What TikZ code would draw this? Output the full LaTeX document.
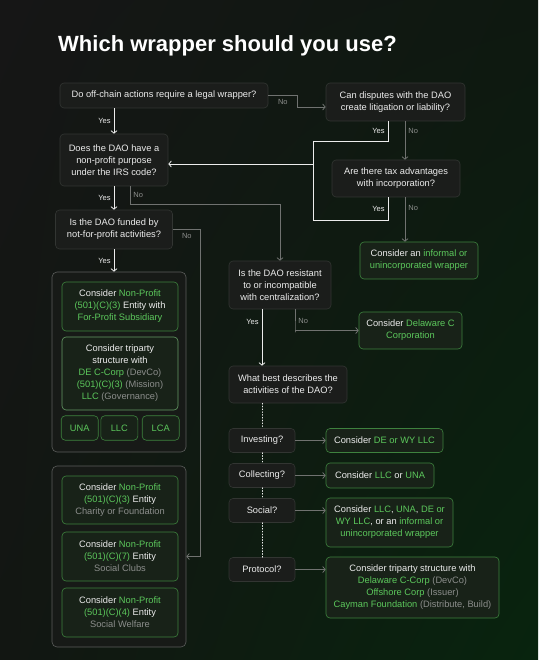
\documentclass[tikz,border=0pt]{standalone}
\usepackage{fontspec}
\setmainfont{Liberation Sans}
\definecolor{wrpbg}{RGB}{22,22,22}
\definecolor{wrpbgtr}{RGB}{14,24,16}
\definecolor{wrpbgbl}{RGB}{18,22,18}
\definecolor{wrpbgbr}{RGB}{8,36,14}
\definecolor{wrpbox}{RGB}{27,29,27}
\definecolor{wrpedge}{RGB}{50,53,50}
\definecolor{wrpgrp}{RGB}{23,26,23}
\definecolor{wrpgreen}{RGB}{92,200,92}
\definecolor{wrpgedge}{RGB}{62,130,62}
\definecolor{wrpgfill}{RGB}{24,34,24}
\definecolor{wrpgray}{RGB}{140,142,140}
\definecolor{wrpline}{RGB}{112,114,112}
\definecolor{wrptext}{RGB}{236,236,236}
\usepackage{tikz}
\usetikzlibrary{arrows.meta,positioning,calc,shadings}
\newcommand{\hl}[1]{\textcolor{wrpgreen}{#1}}
\newcommand{\dm}[1]{\textcolor{wrpgray}{#1}}
\tikzset{
  sz/.style 2 args={minimum width=#1pt,minimum height=#2pt},
  qbox/.style={rectangle,rounded corners=4pt,draw=wrpedge,fill=wrpbox,
               text=wrptext,inner sep=1pt,align=center,line width=0.6pt,
               font=\fontsize{9.3}{12}\selectfont},
  rbox/.style={qbox,draw=wrpgedge,fill=wrpgfill},
  grp/.style={rectangle,rounded corners=5pt,draw=wrpedge!80,fill=wrpgrp,
              line width=0.6pt},
  arrw/.style={line width=0.8pt,draw=wrptext},
  arrg/.style={line width=0.8pt,draw=wrpline},
  tip/.style={-{Straight Barb[length=2.5pt,width=6pt]}},
  lbl/.style={font=\fontsize{7.5}{9}\selectfont,inner sep=3pt,text=#1},
  lbl/.default=wrptext,
}

\begin{document}
\begin{tikzpicture}[x=1pt,y=-1pt]
  \shade[upper left=wrpbg,upper right=wrpbgtr,lower left=wrpbgbl,
         lower right=wrpbgbr] (0,0) rectangle (538,660);
  \node[anchor=base west,inner sep=0pt,text=white,
        font=\fontsize{22}{26}\selectfont\bfseries] (title) at (58,52)
        {Which wrapper should you use?};

  \node[qbox,sz={208}{25}] (off) at (164,95.5)
        {Do off-chain actions require a legal wrapper?};
  \node[qbox,sz={108}{52}] (npp) at (114,160)
        {Does the DAO have a\\non-profit purpose\\under the IRS code?};
  \node[qbox,sz={117}{39}] (fund) at (114,229.5)
        {Is the DAO funded by\\not-for-profit activities?};

  \node[grp,sz={134}{180}] (grpA) at (119,362) {};
  \node[rbox,sz={116}{49}] (subs) at (120,306.5)
        {Consider \hl{Non-Profit}\\\hl{(501)(C)(3)} Entity with\\\hl{For-Profit Subsidiary}};
  \node[rbox,sz={116}{73},draw=wrpgedge!80] (tri) at (120,373.5)
        {Consider triparty\\structure with\\\hl{DE C-Corp} \dm{(DevCo)}\\
         \hl{(501)(C)(3)} \dm{(Mission)}\\\hl{LLC} \dm{(Governance)}};
  \foreach \nm/\x/\lab in {una/79.7/UNA, llc/119.3/LLC, lca/160.7/LCA}
    \node[rbox,sz={37}{24.5}] (\nm) at (\x,428) {\hl{\lab}};

  \node[grp,sz={134}{181}] (grpB) at (119,556.5) {};
  \node[rbox,sz={116}{48}] (charity) at (120,500)
        {Consider \hl{Non-Profit}\\\hl{(501)(C)(3)} Entity\\\dm{Charity or Foundation}};
  \node[rbox,sz={116}{49}] (clubs) at (120,556.5)
        {Consider \hl{Non-Profit}\\\hl{(501)(C)(7)} Entity\\\dm{Social Clubs}};
  \node[rbox,sz={116}{49}] (welfare) at (120,612.5)
        {Consider \hl{Non-Profit}\\\hl{(501)(C)(4)} Entity\\\dm{Social Welfare}};

  \node[qbox,sz={139}{38}] (disp) at (395.5,102)
        {Can disputes with the DAO\\create litigation or liability?};
  \node[qbox,sz={128}{37}] (tax) at (396,178.5)
        {Are there tax advantages\\with incorporation?};
  \node[rbox,sz={118}{37}] (informal) at (419,260.5)
        {Consider an \hl{informal or}\\\hl{unincorporated wrapper}};
  \node[qbox,sz={102}{48}] (central) at (280,285)
        {Is the DAO resistant\\to or incompatible\\with centralization?};
  \node[rbox,sz={103}{37}] (delaware) at (410.5,330.5)
        {Consider \hl{Delaware C}\\\hl{Corporation}};
  \node[qbox,sz={118}{37}] (activ) at (288,384.5)
        {What best describes the\\activities of the DAO?};

  \foreach \nm/\y/\lab in {inv/440.5/Investing?, col/475.5/Collecting?,
                           soc/510.5/Social?, pro/569.5/Protocol?}
    \node[qbox,sz={66}{24}] (\nm) at (262,\y) {\lab};
  \node[rbox,sz={117}{24}] (llcde) at (384.5,440.5) {Consider \hl{DE or WY LLC}};
  \node[rbox,sz={108}{25}] (llcuna) at (380,475.5) {Consider \hl{LLC} or \hl{UNA}};
  \node[rbox,sz={127}{49}] (social) at (389.5,522.5)
        {Consider \hl{LLC}, \hl{UNA}, \hl{DE or}\\\hl{WY LLC}, or an \hl{informal or}\\
         \hl{unincorporated wrapper}};
  \node[rbox,sz={173}{61}] (proto) at (412.5,587.5)
        {Consider triparty structure with\\\hl{Delaware C-Corp} \dm{(DevCo)}\\
         \hl{Offshore Corp} \dm{(Issuer)}\\\hl{Cayman Foundation} \dm{(Distribute, Build)}};

  \coordinate (jn) at (313,164);
  \coordinate (dispno) at ($(disp.south)+(9.5,0)$);
  \coordinate (taxno) at ($(tax.south)+(9,0)$);

  \draw[arrw,tip] (off.south -| npp.north) -- node[lbl,left]{Yes} (npp.north);
  \draw[arrw,tip] (npp.south) -- node[lbl,left]{Yes} (fund.north);
  \draw[arrw,tip] (fund.south) -- node[lbl,left]{Yes} (fund.south |- grpA.north);
  \draw[arrg,tip] (off.east) -- ++(29,0) node[lbl=wrpgray,midway,below]{No}
        |- ($(disp.west)+(0,5)$);
  \draw[arrw] ($(disp.south)+(-7.5,0)$) -- ++(0,20)
        node[lbl,midway,left]{Yes} -| (jn);
  \draw[arrw] ($(tax.south)+(-8,0)$) -- ++(0,23)
        node[lbl,midway,left]{Yes} -| (jn);
  \draw[arrw,tip] (jn) -- (jn -| npp.east);
  \draw[arrg,tip] (dispno) --
        node[lbl=wrpgray,pos=0.25,right]{No} (dispno |- tax.north);
  \draw[arrg,tip] (taxno) --
        node[lbl=wrpgray,pos=0.25,right]{No} (taxno |- informal.north);
  \draw[arrg,tip] ($(npp.south)+(16,0)$) -- ++(0,18)
        node[lbl=wrpgray,midway,right]{No} -| (central.north);
  \draw[arrg,tip] (fund.east) -- ++(28,0) node[lbl=wrpgray,midway,below]{No}
        |- (grpB.east);
  \draw[arrw,tip] (central.south -| inv.north) --
        node[lbl,pos=0.23,left]{Yes} (activ.north -| inv.north);
  \draw[arrg,tip] ($(central.south)+(15,0)$) -- ++(0,23)
        node[lbl=wrpgray,midway,right]{No} |- (delaware.west);
  \draw[arrw,dotted,line cap=round] (activ.south -| inv.north) -- (inv.north)
        (inv.south) -- (col.north) (col.south) -- (soc.north)
        (soc.south) -- (pro.north);
  \foreach \a/\r in {inv/llcde, col/llcuna, soc/social, pro/proto}
    \draw[arrg,tip] (\a.east) -- (\a.east -| \r.west);
\end{tikzpicture}
\end{document}
